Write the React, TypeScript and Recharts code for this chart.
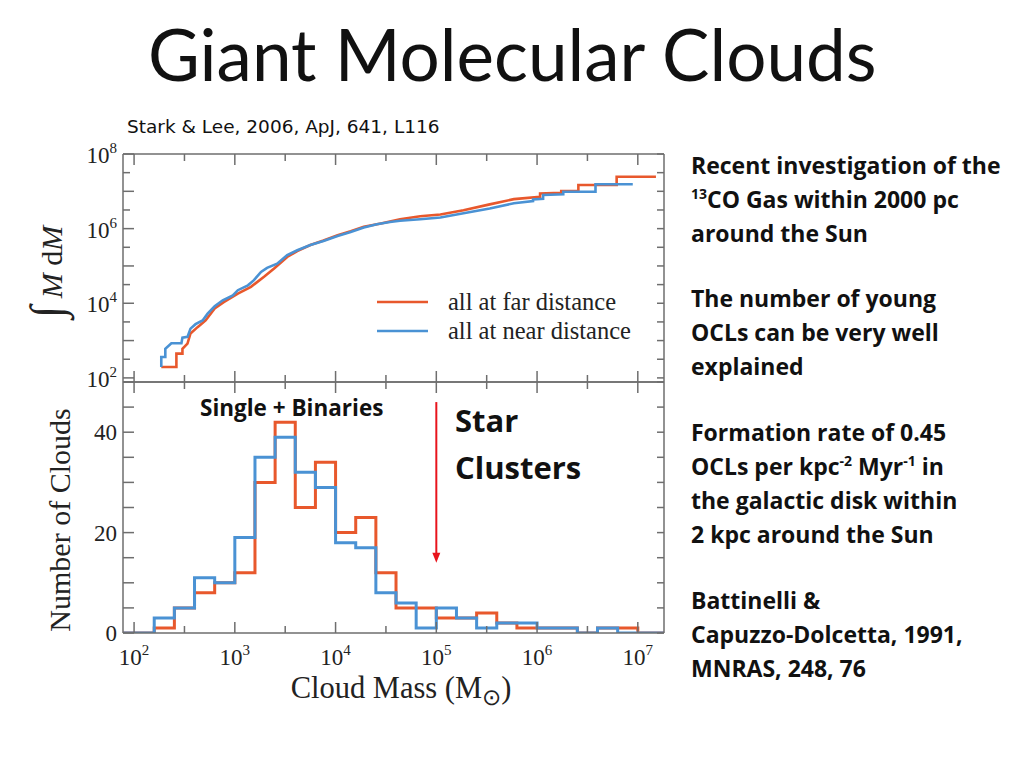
import React from 'react';
import { LineChart, Line, XAxis, YAxis, ReferenceLine } from 'recharts';

// cumulative mass curves (log10 M, log10 of integral M dM), corners
const farLogMass = [2.27, 2.42, 2.42, 2.48, 2.48, 2.53, 2.56, 2.63, 2.71, 2.8, 2.89, 3.03, 3.16, 3.29, 3.39, 3.52, 3.62, 3.75, 3.88, 4.02, 4.15, 4.28, 4.45, 4.64, 4.84, 5.04, 5.27, 5.53, 5.77, 6.03, 6.03, 6.24, 6.24, 6.41, 6.41, 6.79, 6.79, 7.18];
const farLogCum = [2.29, 2.29, 2.65, 2.65, 2.78, 2.92, 3.19, 3.36, 3.54, 3.86, 4.03, 4.26, 4.44, 4.71, 4.93, 5.24, 5.4, 5.56, 5.68, 5.82, 5.93, 6.05, 6.14, 6.25, 6.33, 6.38, 6.49, 6.65, 6.79, 6.85, 6.94, 6.96, 7.01, 7.01, 7.17, 7.17, 7.39, 7.39];
const nearLogMass = [2.27, 2.27, 2.31, 2.31, 2.37, 2.47, 2.48, 2.53, 2.56, 2.61, 2.68, 2.73, 2.8, 2.88, 2.98, 3.03, 3.13, 3.19, 3.26, 3.32, 3.42, 3.52, 3.62, 3.75, 3.88, 4.02, 4.15, 4.28, 4.41, 4.54, 4.64, 4.84, 5.04, 5.27, 5.53, 5.77, 5.96, 5.96, 6.06, 6.06, 6.26, 6.26, 6.58, 6.58, 6.95];
const nearLogCum = [2.29, 2.56, 2.56, 2.78, 2.93, 2.93, 3.08, 3.1, 3.32, 3.44, 3.54, 3.72, 3.92, 4.08, 4.21, 4.35, 4.48, 4.62, 4.84, 4.95, 5.06, 5.29, 5.42, 5.56, 5.67, 5.8, 5.91, 6.03, 6.12, 6.18, 6.21, 6.25, 6.3, 6.41, 6.54, 6.68, 6.74, 6.78, 6.8, 6.9, 6.92, 6.99, 6.99, 7.19, 7.19];

// histogram: left edge of each 0.2 dex bin (last entry closes the final bin)
const binLogMass = [1.8, 2.0, 2.2, 2.4, 2.6, 2.8, 3.0, 3.2, 3.4, 3.6, 3.8, 4.0, 4.2, 4.4, 4.6, 4.8, 5.0, 5.2, 5.4, 5.6, 5.8, 6.0, 6.2, 6.4, 6.6, 6.8, 7.0, 7.2, 7.4];
const farCounts = [0, 0, 1, 5, 8, 10, 12, 30, 42, 25, 34, 20, 23, 12, 5, 5, 3, 3, 4, 2, 1, 1, 1, 0, 1, 1, 0, 0, 0];
const nearCounts = [0, 0, 3, 5, 11, 10, 19, 35, 39, 32, 29, 18, 17, 8, 6, 1, 5, 3, 1, 2, 2, 1, 1, 0, 1, 0, 0, 0, 0];

const massTicks = [2, 2.5, 3, 3.5, 4, 4.5, 5, 5.5, 6, 6.5, 7];
const cumTicks = [2, 2.5, 3, 3.5, 4, 4.5, 5, 5.5, 6, 6.5, 7, 7.5, 8];
const cumLabels = [2, 4, 6, 8];
const countTicks = [0, 5, 10, 15, 20, 25, 30, 35, 40, 45, 50];
const countLabels = [0, 20, 40];

const RED = '#e8582c';
const BLUE = '#4a92d4';
const FRAME = '#6e6e6e';
const SERIF = '"Liberation Serif", "Times New Roman", serif';
const SANS = '"Open Sans", Lato, sans-serif';

const zip = (xs: number[], ys: number[]) => xs.map((x, i) => ({ x, y: ys[i] }));
const farCum = zip(farLogMass, farLogCum);
const nearCum = zip(nearLogMass, nearLogCum);
const farHist = zip(binLogMass, farCounts);
const nearHist = zip(binLogMass, nearCounts);

const axisLine = { stroke: FRAME, strokeWidth: 1.5 };

function XTick(props: any) {
  const { x, y, payload, dir, showLabels } = props;
  const v = payload.value;
  const major = Number.isInteger(v);
  const len = major ? 11 : 7;
  return (
    <g>
      <line x1={x} x2={x} y1={y} y2={y + dir * len} stroke={FRAME} strokeWidth={1.5} />
      {showLabels && major && (
        <text x={x} y={y + 32} textAnchor="middle" fontFamily={SERIF} fontSize={23} fill="#222">
          10<tspan dy={-10} fontSize={15}>{v}</tspan>
        </text>
      )}
    </g>
  );
}

function YTick(props: any) {
  const { x, y, payload, dir, labels, power } = props;
  const v = payload.value;
  const major = labels ? labels.includes(v) || Number.isInteger(v) : false;
  const len = major ? 11 : 7;
  return (
    <g>
      <line x1={x} x2={x + dir * len} y1={y} y2={y} stroke={FRAME} strokeWidth={1.5} />
      {labels && labels.includes(v) && (
        power ? (
          <text x={x - 6} y={y + 9} textAnchor="end" fontFamily={SERIF} fontSize={23} fill="#222">
            10<tspan dy={-10} fontSize={15}>{v}</tspan>
          </text>
        ) : (
          <text x={x - 6} y={y + 8} textAnchor="end" fontFamily={SERIF} fontSize={23} fill="#222">{v}</text>
        )
      )}
    </g>
  );
}

function Arrow(props: any) {
  const { x1, y1, x2, y2 } = props;
  return (
    <g>
      <line x1={x1} y1={y1} x2={x2} y2={y2 - 8} stroke="#e8141c" strokeWidth={2} />
      <polygon points={`${x2 - 4},${y2 - 10} ${x2 + 4},${y2 - 10} ${x2},${y2}`} fill="#e8141c" />
    </g>
  );
}

function CumulativePanel() {
  return (
    <LineChart width={700} height={400} margin={{ top: 144, right: 26, bottom: 8, left: 63 }}>
      <XAxis xAxisId="b" dataKey="x" type="number" domain={[1.89, 7.26]} allowDataOverflow ticks={massTicks} interval={0}
        tickSize={0} tickMargin={0} height={10} axisLine={axisLine} tickLine={false}
        tick={(p: any) => <XTick {...p} dir={-1} />} />
      <XAxis xAxisId="t" orientation="top" dataKey="x" type="number" domain={[1.89, 7.26]} allowDataOverflow ticks={massTicks} interval={0}
        tickSize={0} tickMargin={0} height={10} axisLine={axisLine} tickLine={false}
        tick={(p: any) => <XTick {...p} dir={1} />} />
      <YAxis yAxisId="l" type="number" domain={[1.89, 8]} allowDataOverflow ticks={cumTicks} interval={0}
        tickSize={0} tickMargin={0} width={60} axisLine={axisLine} tickLine={false}
        tick={(p: any) => <YTick {...p} dir={1} labels={cumLabels} power />} />
      <YAxis yAxisId="r" orientation="right" type="number" domain={[1.89, 8]} allowDataOverflow ticks={cumTicks} interval={0}
        tickSize={0} tickMargin={0} width={10} axisLine={axisLine} tickLine={false}
        tick={(p: any) => <YTick {...p} dir={-1} />} />
      <Line xAxisId="b" yAxisId="l" data={farCum} dataKey="y" type="linear" stroke={RED} strokeWidth={2.6} dot={false} isAnimationActive={false} />
      <Line xAxisId="b" yAxisId="l" data={nearCum} dataKey="y" type="linear" stroke={BLUE} strokeWidth={2.6} dot={false} isAnimationActive={false} />
    </LineChart>
  );
}

function HistogramPanel() {
  return (
    <LineChart width={700} height={720} margin={{ top: 372, right: 26, bottom: 47, left: 63 }}>
      <XAxis xAxisId="b" dataKey="x" type="number" domain={[1.89, 7.26]} allowDataOverflow ticks={massTicks} interval={0}
        tickSize={0} tickMargin={0} height={40} axisLine={axisLine} tickLine={false}
        tick={(p: any) => <XTick {...p} dir={-1} showLabels />} />
      <XAxis xAxisId="t" orientation="top" dataKey="x" type="number" domain={[1.89, 7.26]} allowDataOverflow ticks={massTicks} interval={0}
        tickSize={0} tickMargin={0} height={10} axisLine={axisLine} tickLine={false}
        tick={(p: any) => <XTick {...p} dir={1} />} />
      <YAxis yAxisId="l" type="number" domain={[0, 50]} allowDataOverflow ticks={countTicks} interval={0}
        tickSize={0} tickMargin={0} width={60} axisLine={axisLine} tickLine={false}
        tick={(p: any) => <YTick {...p} dir={1} labels={countLabels} />} />
      <YAxis yAxisId="r" orientation="right" type="number" domain={[0, 50]} allowDataOverflow ticks={countTicks} interval={0}
        tickSize={0} tickMargin={0} width={10} axisLine={axisLine} tickLine={false}
        tick={(p: any) => <YTick {...p} dir={-1} />} />
      <Line xAxisId="b" yAxisId="l" data={farHist} dataKey="y" type="stepAfter" stroke={RED} strokeWidth={3} dot={false} isAnimationActive={false} />
      <Line xAxisId="b" yAxisId="l" data={nearHist} dataKey="y" type="stepAfter" stroke={BLUE} strokeWidth={3} dot={false} isAnimationActive={false} />
      <ReferenceLine xAxisId="b" yAxisId="l" segment={[{ x: 5, y: 46 }, { x: 5, y: 14 }]} shape={(p: any) => <Arrow {...p} />} ifOverflow="visible" />
    </LineChart>
  );
}

type Part = string | { sup: string };
const rightText: { y: number; parts: Part[] }[] = [
  { y: 174, parts: ['Recent investigation of the'] },
  { y: 208, parts: [{ sup: '13' }, 'CO Gas within 2000 pc'] },
  { y: 242, parts: ['around the Sun'] },
  { y: 307, parts: ['The number of young'] },
  { y: 341, parts: ['OCLs can be very well'] },
  { y: 375, parts: ['explained'] },
  { y: 441, parts: ['Formation rate of 0.45'] },
  { y: 475, parts: ['OCLs per kpc', { sup: '-2' }, ' Myr', { sup: '-1' }, ' in'] },
  { y: 509, parts: ['the galactic disk within'] },
  { y: 543, parts: ['2 kpc around the Sun'] },
  { y: 609, parts: ['Battinelli &'] },
  { y: 643, parts: ['Capuzzo-Dolcetta, 1991,'] },
  { y: 677, parts: ['MNRAS, 248, 76'] },
];

function RichLine({ y, parts }: { y: number; parts: Part[] }) {
  let raised = false;
  return (
    <text x={691} y={y} fontFamily={SANS} fontWeight={700} fontSize={23} fill="#111">
      {parts.map((p, j) => {
        if (typeof p === 'string') {
          const dy = raised ? 9 : 0;
          raised = false;
          return <tspan key={j} dy={dy}>{p}</tspan>;
        }
        raised = true;
        return <tspan key={j} dy={-9} fontSize={14}>{p.sup}</tspan>;
      })}
    </text>
  );
}

function Overlay() {
  return (
    <svg width={1024} height={768} style={{ position: 'absolute', left: 0, top: 0, pointerEvents: 'none' }}>
      <text x={148} y={81} fontFamily='Lato, sans-serif' fontWeight={400} fontSize={71} fill="#111">Giant Molecular Clouds</text>
      <text x={127} y={133} fontFamily='"DejaVu Sans", sans-serif' fontSize={18.5} fill="#111">Stark &amp; Lee, 2006, ApJ, 641, L116</text>

      {rightText.map((line, i) => <RichLine key={i} y={line.y} parts={line.parts} />)}

      {/* legend */}
      <line x1={377} x2={428} y1={302} y2={302} stroke={RED} strokeWidth={2.6} />
      <text x={448} y={310} fontFamily={SERIF} fontSize={24.5} fill="#222">all at far distance</text>
      <line x1={377} x2={428} y1={331} y2={331} stroke={BLUE} strokeWidth={2.6} />
      <text x={448} y={339} fontFamily={SERIF} fontSize={24.5} fill="#222">all at near distance</text>

      {/* axis titles */}
      <text x={401} y={698} textAnchor="middle" fontFamily={SERIF} fontSize={30.5} fill="#222">
        Cloud Mass  (M<tspan dy={7} fontSize={23}>⊙</tspan><tspan dy={-7}>)</tspan>
      </text>
      <text transform="translate(70,520) rotate(-90)" textAnchor="middle" fontFamily={SERIF} fontSize={30} fill="#222">Number of Clouds</text>
      <text transform="translate(62,272) rotate(-90)" textAnchor="middle" fontFamily={SERIF} fontSize={30} fill="#222">
        <tspan fontSize={46}>∫</tspan><tspan fontStyle="italic"> M</tspan> d<tspan fontStyle="italic">M</tspan>
      </text>

      {/* annotations */}
      <text x={200} y={416} fontFamily={SANS} fontWeight={700} fontSize={22.5} fill="#111">Single + Binaries</text>
      <text x={455} y={432} fontFamily={SANS} fontWeight={700} fontSize={31} fill="#111">Star</text>
      <text x={455} y={479} fontFamily={SANS} fontWeight={700} fontSize={31} fill="#111">Clusters</text>
    </svg>
  );
}

export default function App() {
  return (
    <div style={{ position: 'absolute', left: 0, top: 0, width: 1024, height: 768, background: '#fff', overflow: 'hidden' }}>
      <div style={{ position: 'absolute', left: 0, top: 0 }}>
        <HistogramPanel />
      </div>
      <div style={{ position: 'absolute', left: 0, top: 0 }}>
        <CumulativePanel />
      </div>
      <Overlay />
    </div>
  );
}
